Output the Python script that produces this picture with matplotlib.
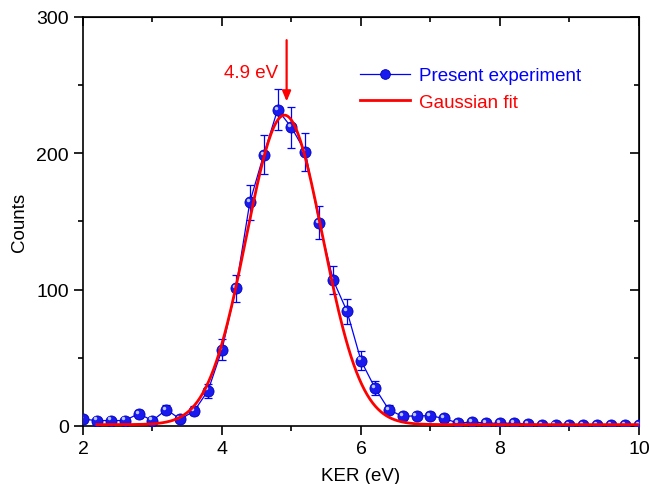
import numpy as np
import matplotlib.pyplot as plt
from matplotlib.ticker import MultipleLocator
from matplotlib.transforms import ScaledTranslation

plt.rcParams['font.family'] = ['Liberation Sans', 'DejaVu Sans']

# energia cinetica liberada (eV), paso 0.2
ker = np.round(np.arange(2.0, 10.01, 0.2), 1)
cuentas = [5, 4, 4, 4, 9, 4, 12, 5, 11, 26,
           56, 101, 164, 199, 232, 219, 201, 149, 107, 84,
           48, 28, 12, 7, 7.5, 7.5, 5.5, 2, 3, 2,
           2, 2, 1.5, 1, 1, 1, 1, 1, 1, 1, 1]
errores = [2.2, 2.0, 2.0, 2.0, 3.0, 2.0, 3.5, 2.2, 3.3, 5.1,
           7.5, 10.0, 12.8, 14.1, 15.2, 14.8, 14.2, 12.2, 10.3, 9.2,
           6.9, 5.3, 3.5, 2.6, 2.7, 2.7, 2.3, 1.4, 1.7, 1.4,
           1.4, 1.4, 1.2, 1.0, 1.0, 1.0, 1.0, 1.0, 1.0, 1.0, 1.0]

# parametros del ajuste gaussiano
y0 = 1.0
amplitud = 227.0
centro = 4.9
sigma = 0.55
pico_flecha = 4.93

fig = plt.figure(figsize=(6.49, 4.85), dpi=100)
ax = fig.add_axes([0.1279, 0.1196, 0.8566, 0.8433])

azul = '#0000ff'
rojo = '#ff0000'

# barras de error
ax.errorbar(ker, cuentas, yerr=errores, fmt='none', ecolor=azul,
            elinewidth=0.9, capsize=3, capthick=0.9, zorder=2)

# datos experimentales
ax.plot(ker, cuentas, '-', color=azul, lw=0.9, marker='o', markersize=8,
        markerfacecolor='#1a1aee', markeredgecolor='#0000c0', markeredgewidth=0.6,
        label='Present experiment', zorder=3)
# brillo de las esferas
brillo = ax.transData + ScaledTranslation(-1.5 / 72, 1.5 / 72, fig.dpi_scale_trans)
ax.plot(ker, cuentas, 'o', color='#b8c8ff', markersize=2.5, markeredgewidth=0,
        transform=brillo, zorder=4)

# curva del ajuste
x_fit = np.linspace(2.2, 10.0, 400)
y_fit = y0 + amplitud * np.exp(-(x_fit - centro) ** 2 / (2 * sigma ** 2))
ax.plot(x_fit, y_fit, color=rojo, lw=2, label='Gaussian fit', zorder=5)

# flecha del pico
ax.annotate('', xy=(pico_flecha, 238), xytext=(pico_flecha, 283),
            arrowprops=dict(arrowstyle='-|>,head_length=0.6,head_width=0.25',
                            color=rojo, lw=1.6, shrinkA=0, shrinkB=0))
ax.text(pico_flecha - 0.12, 259, '4.9 eV', color=rojo, fontsize=13.5,
        ha='right', va='center')

ax.set_xlim(2, 10)
ax.set_ylim(0, 300)
ax.xaxis.set_major_locator(MultipleLocator(2))
ax.xaxis.set_minor_locator(MultipleLocator(1))
ax.yaxis.set_major_locator(MultipleLocator(100))
ax.yaxis.set_minor_locator(MultipleLocator(50))

ax.tick_params(which='both', direction='out', labelsize=14, width=1.2)
ax.tick_params(which='major', length=6.5)
ax.tick_params(which='minor', length=3.5)

# ejes superior y derecho con marcas hacia dentro
arriba = ax.secondary_xaxis('top')
arriba.xaxis.set_major_locator(MultipleLocator(2))
arriba.xaxis.set_minor_locator(MultipleLocator(1))
arriba.tick_params(which='both', direction='in', labeltop=False, width=1.2)
arriba.tick_params(which='major', length=6.5)
arriba.tick_params(which='minor', length=3.5)
derecha = ax.secondary_yaxis('right')
derecha.yaxis.set_major_locator(MultipleLocator(100))
derecha.yaxis.set_minor_locator(MultipleLocator(50))
derecha.tick_params(which='both', direction='in', labelright=False, width=1.2)
derecha.tick_params(which='major', length=6.5)
derecha.tick_params(which='minor', length=3.5)

for s in ax.spines.values():
    s.set_linewidth(1.2)

ax.set_xlabel('KER (eV)', fontsize=13.5, labelpad=7)
ax.set_ylabel('Counts', fontsize=13.5, labelpad=6)

ley = ax.legend(loc='upper left', bbox_to_anchor=(0.481, 0.9), frameon=False,
                fontsize=13.5, handlelength=2.7, handletextpad=0.45, labelspacing=0.5,
                numpoints=1, borderpad=0, labelcolor='linecolor')
for h in ley.legend_handles:
    h.set_markersize(7)

fig.savefig('out.png', dpi=100)
